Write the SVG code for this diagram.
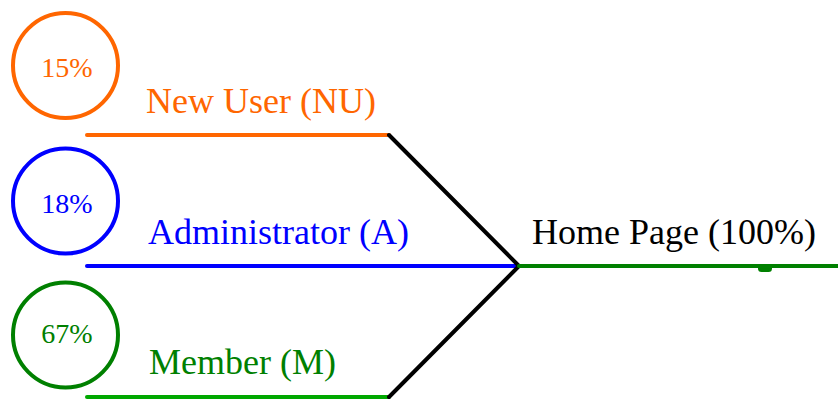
<svg xmlns="http://www.w3.org/2000/svg" width="838" height="401" viewBox="0 0 838 401">
  <style>
    .ring { fill: none; stroke-width: 4; }
    text { font-family: 'Liberation Serif', 'DejaVu Serif', 'Times New Roman', serif; }
    .pct { font-size: 28px; text-anchor: middle; }
    .label { font-size: 36px; }
    .line { fill: none; stroke-width: 4; stroke-linecap: round; stroke-linejoin: round; }
  </style>

  <!-- connectors -->
  <g id="connectors">
    <line class="line" x1="87" y1="135" x2="389" y2="135" stroke="#ff6600"/>
    <line class="line" x1="87" y1="266" x2="519" y2="266" stroke="#0000ff"/>
    <line class="line" x1="87" y1="397" x2="389" y2="397" stroke="#00a800"/>
    <polyline class="line" points="389,135 519,266 389,397" stroke="#000000"/>
    <line class="line" x1="519" y1="266" x2="840" y2="266" stroke="#008000" stroke-linecap="butt"/>
    <rect x="758" y="264" width="14" height="8" rx="3.5" fill="#008000"/>
  </g>

  <g id="new-user">
    <circle class="ring" cx="65.5" cy="65.5" r="52.5" stroke="#ff6600"/>
    <text class="pct" x="67" y="77" fill="#ff6600" font-family="Liberation Serif, serif">15%</text>
    <text class="label" x="146" y="113" fill="#ff6600" font-family="Liberation Serif, serif">New User (NU)</text>
  </g>

  <g id="administrator">
    <circle class="ring" cx="65.5" cy="201" r="52.5" stroke="#0000ff"/>
    <text class="pct" x="67" y="213" fill="#0000ff" font-family="Liberation Serif, serif">18%</text>
    <text class="label" x="148" y="244" fill="#0000ff" font-family="Liberation Serif, serif">Administrator (A)</text>
  </g>

  <g id="member">
    <circle class="ring" cx="65.5" cy="335" r="52.5" stroke="#008000"/>
    <text class="pct" x="67" y="343" fill="#008000" font-family="Liberation Serif, serif">67%</text>
    <text class="label" x="149" y="374" fill="#008000" font-family="Liberation Serif, serif">Member (M)</text>
  </g>

  <g id="home-page">
    <text class="label" x="532" y="244" fill="#000000" font-family="Liberation Serif, serif">Home Page (100%)</text>
  </g>
</svg>
